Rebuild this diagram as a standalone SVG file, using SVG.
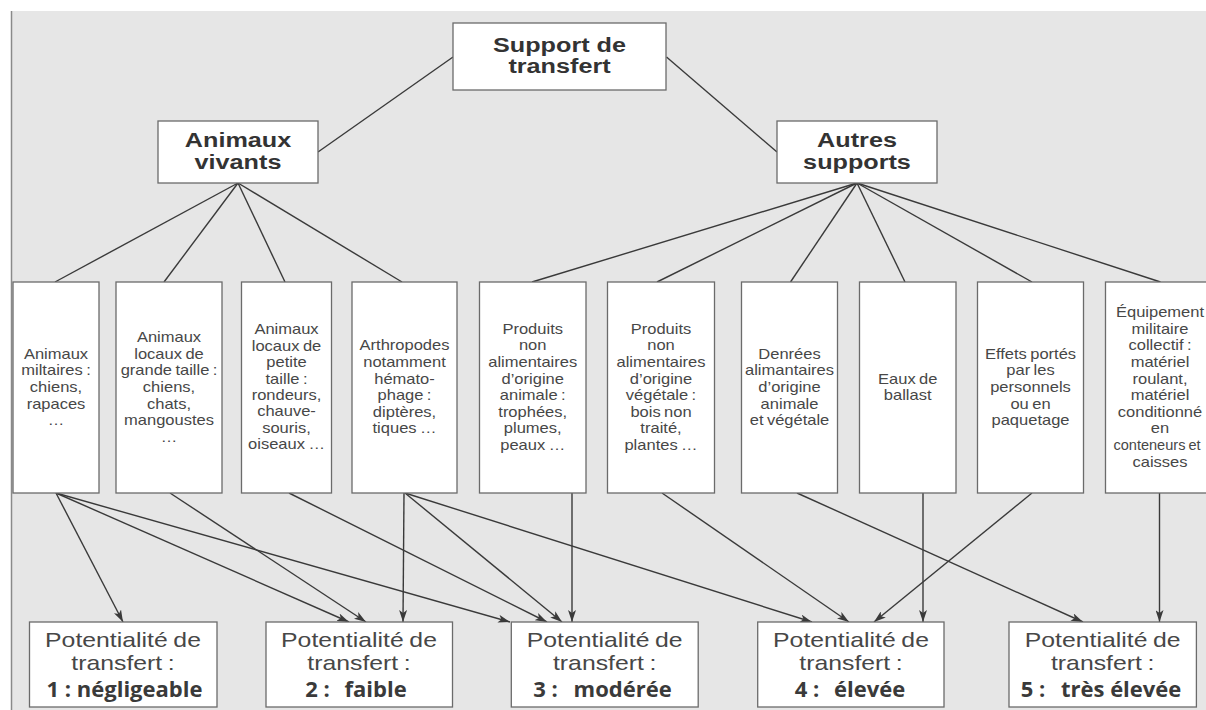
<svg xmlns="http://www.w3.org/2000/svg" width="1206" height="710" viewBox="0 0 1206 710">
<style>
.box{fill:#fff;stroke:#6b6b6b;stroke-width:1.3}
.h{font-family:"Liberation Sans",Arial,sans-serif;font-weight:bold;font-size:21px;fill:#333;text-anchor:middle}
.s{font-family:"Liberation Sans",Arial,sans-serif;font-size:14px;fill:#474747;text-anchor:middle;word-spacing:-1px}
.p{font-family:"Liberation Sans",Arial,sans-serif;font-size:20px;fill:#474747;text-anchor:middle;word-spacing:-1px}
.b{font-family:"Open Sans","Noto Sans",sans-serif;font-weight:bold;font-size:22px;fill:#3a3a3a;text-anchor:middle}
.c line{stroke:#3a3a3a;stroke-width:1.4;fill:none}
.a line{marker-end:url(#ah)}
</style>
<defs>
<marker id="ah" markerUnits="userSpaceOnUse" markerWidth="13" markerHeight="8" refX="12" refY="4" orient="auto">
<path d="M0,0 L12,4 L0,8 L3,4 z" fill="#3a3a3a"/>
</marker>
</defs>
<rect x="11" y="11" width="1195" height="699" fill="#e6e6e6"/>
<line x1="11.5" y1="11" x2="11.5" y2="710" stroke="#8a8a8a" stroke-width="1.5"/>

<g id="connectors" class="c">
<line x1="453" y1="57" x2="318" y2="152"/>
<line x1="666.5" y1="57" x2="777" y2="152"/>
<line x1="238" y1="183" x2="55" y2="282"/>
<line x1="238" y1="183" x2="164" y2="282"/>
<line x1="238" y1="183" x2="285" y2="282"/>
<line x1="238" y1="183" x2="402" y2="282"/>
<line x1="857" y1="183" x2="532" y2="282"/>
<line x1="857" y1="183" x2="657" y2="282"/>
<line x1="857" y1="183" x2="790.5" y2="282"/>
<line x1="857" y1="183" x2="905" y2="282"/>
<line x1="857" y1="183" x2="1032" y2="282"/>
<line x1="857" y1="183" x2="1160.5" y2="282"/>
<g class="a">
<line x1="56" y1="493" x2="123" y2="622"/>
<line x1="56" y1="493" x2="349" y2="622"/>
<line x1="56" y1="493" x2="510" y2="622"/>
<line x1="170" y1="493" x2="366" y2="622"/>
<line x1="289" y1="493" x2="547" y2="622"/>
<line x1="404" y1="493" x2="403" y2="622"/>
<line x1="405" y1="493" x2="562" y2="622"/>
<line x1="405" y1="493" x2="812" y2="622"/>
<line x1="572" y1="493" x2="572" y2="622"/>
<line x1="662" y1="493" x2="849" y2="622"/>
<line x1="797" y1="493" x2="1083" y2="622"/>
<line x1="923" y1="493" x2="923" y2="622"/>
<line x1="1032" y1="493" x2="874" y2="622"/>
<line x1="1159.5" y1="493" x2="1159.5" y2="622"/>
</g>
</g>

<g id="n-support">
<rect class="box" x="453" y="23" width="213" height="67"/>
<text class="h" transform="translate(559.5 0) scale(1.2 1)"><tspan x="0" y="52">Support de</tspan><tspan x="0" y="73.5">transfert</tspan></text>
</g>
<g id="n-animaux">
<rect class="box" x="158" y="121" width="160" height="62"/>
<text class="h" transform="translate(238 0) scale(1.2 1)"><tspan x="0" y="147">Animaux</tspan><tspan x="0" y="169">vivants</tspan></text>
</g>
<g id="n-autres">
<rect class="box" x="777" y="121" width="160" height="62"/>
<text class="h" transform="translate(857 0) scale(1.2 1)"><tspan x="0" y="147">Autres</tspan><tspan x="0" y="169">supports</tspan></text>
</g>

<g id="n-b1">
<rect class="box" x="13" y="282" width="86" height="211"/>
<text class="s" transform="translate(56 0) scale(1.18 1)"><tspan x="0" y="358.8">Animaux</tspan><tspan x="0" dy="16.6">miltaires :</tspan><tspan x="0" dy="16.6">chiens,</tspan><tspan x="0" dy="16.6">rapaces</tspan><tspan x="0" dy="16.6">…</tspan></text>
</g>
<g id="n-b2">
<rect class="box" x="116" y="282" width="106" height="211"/>
<text class="s" transform="translate(169 0) scale(1.18 1)"><tspan x="0" y="342.2">Animaux</tspan><tspan x="0" dy="16.6">locaux de</tspan><tspan x="0" dy="16.6">grande taille :</tspan><tspan x="0" dy="16.6">chiens,</tspan><tspan x="0" dy="16.6">chats,</tspan><tspan x="0" dy="16.6">mangoustes</tspan><tspan x="0" dy="16.6">…</tspan></text>
</g>
<g id="n-b3">
<rect class="box" x="241.5" y="282" width="90" height="211"/>
<text class="s" transform="translate(286.5 0) scale(1.18 1)"><tspan x="0" y="334.5">Animaux</tspan><tspan x="0" dy="16.4">locaux de</tspan><tspan x="0" dy="16.4">petite</tspan><tspan x="0" dy="16.4">taille :</tspan><tspan x="0" dy="16.4">rondeurs,</tspan><tspan x="0" dy="16.4">chauve-</tspan><tspan x="0" dy="16.4">souris,</tspan><tspan x="0" dy="16.4">oiseaux …</tspan></text>
</g>
<g id="n-b4">
<rect class="box" x="352" y="282" width="105" height="211"/>
<text class="s" transform="translate(404.5 0) scale(1.18 1)"><tspan x="0" y="350.5">Arthropodes</tspan><tspan x="0" dy="16.6">notamment</tspan><tspan x="0" dy="16.6">hémato-</tspan><tspan x="0" dy="16.6">phage :</tspan><tspan x="0" dy="16.6">diptères,</tspan><tspan x="0" dy="16.6">tiques …</tspan></text>
</g>
<g id="n-b5">
<rect class="box" x="479.5" y="282" width="106.5" height="211"/>
<text class="s" transform="translate(532.7 0) scale(1.18 1)"><tspan x="0" y="333.9">Produits</tspan><tspan x="0" dy="16.6">non</tspan><tspan x="0" dy="16.6">alimentaires</tspan><tspan x="0" dy="16.6">d’origine</tspan><tspan x="0" dy="16.6">animale :</tspan><tspan x="0" dy="16.6">trophées,</tspan><tspan x="0" dy="16.6">plumes,</tspan><tspan x="0" dy="16.6">peaux …</tspan></text>
</g>
<g id="n-b6">
<rect class="box" x="607.5" y="282" width="107" height="211"/>
<text class="s" transform="translate(661 0) scale(1.18 1)"><tspan x="0" y="333.9">Produits</tspan><tspan x="0" dy="16.6">non</tspan><tspan x="0" dy="16.6">alimentaires</tspan><tspan x="0" dy="16.6">d’origine</tspan><tspan x="0" dy="16.6">végétale :</tspan><tspan x="0" dy="16.6">bois non</tspan><tspan x="0" dy="16.6">traité,</tspan><tspan x="0" dy="16.6">plantes …</tspan></text>
</g>
<g id="n-b7">
<rect class="box" x="741.5" y="282" width="96" height="211"/>
<text class="s" transform="translate(789.5 0) scale(1.18 1)"><tspan x="0" y="358.8">Denrées</tspan><tspan x="0" dy="16.6">alimantaires</tspan><tspan x="0" dy="16.6">d’origine</tspan><tspan x="0" dy="16.6">animale</tspan><tspan x="0" dy="16.6">et végétale</tspan></text>
</g>
<g id="n-b8">
<rect class="box" x="859.5" y="282" width="96.5" height="211"/>
<text class="s" transform="translate(907.7 0) scale(1.18 1)"><tspan x="0" y="383.7">Eaux de</tspan><tspan x="0" dy="16.6">ballast</tspan></text>
</g>
<g id="n-b9">
<rect class="box" x="977.5" y="282" width="106" height="211"/>
<text class="s" transform="translate(1030.5 0) scale(1.18 1)"><tspan x="0" y="358.8">Effets portés</tspan><tspan x="0" dy="16.6">par les</tspan><tspan x="0" dy="16.6">personnels</tspan><tspan x="0" dy="16.6">ou en</tspan><tspan x="0" dy="16.6">paquetage</tspan></text>
</g>
<g id="n-b10">
<rect class="box" x="1105.5" y="282" width="108.5" height="211"/>
<text class="s" transform="translate(1160 0) scale(1.18 1)"><tspan x="0" y="317.3">Équipement</tspan><tspan x="0" dy="16.6">militaire</tspan><tspan x="0" dy="16.6">collectif :</tspan><tspan x="0" dy="16.6">matériel</tspan><tspan x="0" dy="16.6">roulant,</tspan><tspan x="0" dy="16.6">matériel</tspan><tspan x="0" dy="16.6">conditionné</tspan><tspan x="0" dy="16.6">en</tspan></text>
<text class="s" transform="translate(1157 0) scale(1.04 1)"><tspan x="0" y="450.1">conteneurs et</tspan></text>
<text class="s" transform="translate(1160 0) scale(1.18 1)"><tspan x="0" y="466.7">caisses</tspan></text>
</g>

<g id="n-p1">
<rect class="box" x="29.5" y="622" width="187.5" height="85"/>
<text class="p" transform="translate(123 0) scale(1.24 1)"><tspan x="0" y="647.5">Potentialité de</tspan><tspan x="0" y="670">transfert :</tspan></text>
<text class="b" x="124.5" y="697">1 : négligeable</text>
</g>
<g id="n-p2">
<rect class="box" x="266" y="622" width="186.5" height="85"/>
<text class="p" transform="translate(359 0) scale(1.24 1)"><tspan x="0" y="647.5">Potentialité de</tspan><tspan x="0" y="670">transfert :</tspan></text>
<text class="b" x="356" y="697">2 : <tspan dx="9">faible</tspan></text>
</g>
<g id="n-p3">
<rect class="box" x="511.3" y="622" width="186.9" height="85"/>
<text class="p" transform="translate(604.7 0) scale(1.24 1)"><tspan x="0" y="647.5">Potentialité de</tspan><tspan x="0" y="670">transfert :</tspan></text>
<text class="b" x="602.5" y="697">3 : <tspan dx="10">modérée</tspan></text>
</g>
<g id="n-p4">
<rect class="box" x="757.7" y="622" width="186.3" height="85"/>
<text class="p" transform="translate(851 0) scale(1.24 1)"><tspan x="0" y="647.5">Potentialité de</tspan><tspan x="0" y="670">transfert :</tspan></text>
<text class="b" x="850" y="697">4 : <tspan dx="9">élevée</tspan></text>
</g>
<g id="n-p5">
<rect class="box" x="1009" y="622" width="187.4" height="85"/>
<text class="p" transform="translate(1102.7 0) scale(1.24 1)"><tspan x="0" y="647.5">Potentialité de</tspan><tspan x="0" y="670">transfert :</tspan></text>
<text class="b" x="1101" y="697">5 : <tspan dx="10">très élevée</tspan></text>
</g>
</svg>
